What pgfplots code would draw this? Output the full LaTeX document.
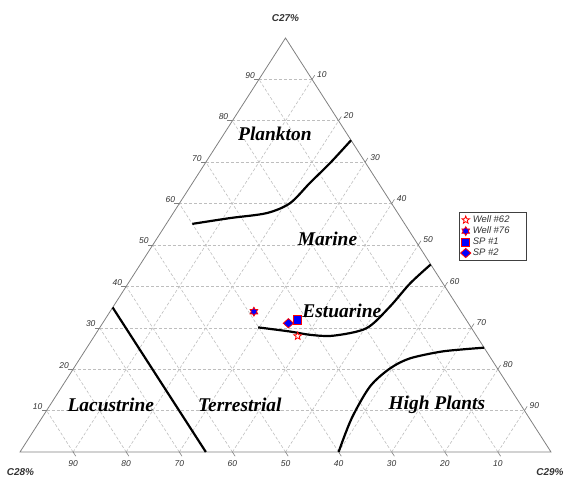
\documentclass[border=0pt]{standalone}
\usepackage{pgfplots}
\pgfplotsset{compat=1.18}
\usepackage{pgfplotstable}
\usepackage{fontspec}
\setmainfont{Liberation Serif}
\newfontfamily\arial{Liberation Sans}

% ternary data: C27 (top), C28 (left), C29 (right), in %
\pgfplotstableread{
C27 C28 C29
55.1 40.0 4.9
56.5 32.2 11.3
57.7 24.7 17.6
60.1 19.1 20.8
65.0 12.9 22.1
69.8 6.7 23.5
75.3 0.0 24.7
}\plankton
\pgfplotstableread{
C27 C28 C29
30.1 40.1 29.8
29.1 34.6 36.3
28.3 31.2 40.5
28.1 26.9 45.0
29.9 19.8 50.3
35.1 12.8 52.1
40.7 6.2 53.1
45.3 0.0 54.7
}\estuarine
\pgfplotstableread{
C27 C28 C29
0.0 40.0 60.0
8.1 33.5 58.4
15.8 26.2 58.0
20.2 20.2 59.6
22.6 15.3 62.1
24.2 8.8 67.0
24.8 4.1 71.1
25.2 0.0 74.8
}\highplants
\pgfplotstableread{
C27 C28 C29
34.9 65.1 0.0
0.0 65.0 35.0
}\lacustrine
\pgfplotstableread{
C27 C28 C29
28.0 33.7 38.3
}\wellA
\pgfplotstableread{
C27 C28 C29
33.9 39.0 27.1
}\wellB
\pgfplotstableread{
C27 C28 C29
31.9 31.8 36.3
}\spA
\pgfplotstableread{
C27 C28 C29
31.1 33.9 35.0
}\spB

\pgfdeclareplotmark{starfive}{%
  \pgfpathmoveto{\pgfpointpolar{90}{\pgfplotmarksize}}%
  \pgfpathlineto{\pgfpointpolar{126}{0.42\pgfplotmarksize}}%
  \pgfpathlineto{\pgfpointpolar{162}{\pgfplotmarksize}}%
  \pgfpathlineto{\pgfpointpolar{198}{0.42\pgfplotmarksize}}%
  \pgfpathlineto{\pgfpointpolar{234}{\pgfplotmarksize}}%
  \pgfpathlineto{\pgfpointpolar{270}{0.42\pgfplotmarksize}}%
  \pgfpathlineto{\pgfpointpolar{306}{\pgfplotmarksize}}%
  \pgfpathlineto{\pgfpointpolar{342}{0.42\pgfplotmarksize}}%
  \pgfpathlineto{\pgfpointpolar{18}{\pgfplotmarksize}}%
  \pgfpathlineto{\pgfpointpolar{54}{0.42\pgfplotmarksize}}%
  \pgfpathclose
  \pgfusepathqfillstroke
}
\pgfdeclareplotmark{starsix}{%
  \pgfpathmoveto{\pgfpointpolar{90}{\pgfplotmarksize}}%
  \pgfpathlineto{\pgfpointpolar{120}{0.58\pgfplotmarksize}}%
  \pgfpathlineto{\pgfpointpolar{150}{\pgfplotmarksize}}%
  \pgfpathlineto{\pgfpointpolar{180}{0.58\pgfplotmarksize}}%
  \pgfpathlineto{\pgfpointpolar{210}{\pgfplotmarksize}}%
  \pgfpathlineto{\pgfpointpolar{240}{0.58\pgfplotmarksize}}%
  \pgfpathlineto{\pgfpointpolar{270}{\pgfplotmarksize}}%
  \pgfpathlineto{\pgfpointpolar{300}{0.58\pgfplotmarksize}}%
  \pgfpathlineto{\pgfpointpolar{330}{\pgfplotmarksize}}%
  \pgfpathlineto{\pgfpointpolar{0}{0.58\pgfplotmarksize}}%
  \pgfpathlineto{\pgfpointpolar{30}{\pgfplotmarksize}}%
  \pgfpathlineto{\pgfpointpolar{60}{0.58\pgfplotmarksize}}%
  \pgfpathclose
  \pgfusepathqfillstroke
}
\pgfdeclareplotmark{widediamond}{%
  \pgfpathmoveto{\pgfqpoint{0pt}{\pgfplotmarksize}}%
  \pgfpathlineto{\pgfqpoint{1.12\pgfplotmarksize}{0pt}}%
  \pgfpathlineto{\pgfqpoint{0pt}{-\pgfplotmarksize}}%
  \pgfpathlineto{\pgfqpoint{-1.12\pgfplotmarksize}{0pt}}%
  \pgfpathclose
  \pgfusepathqfillstroke
}

\definecolor{edgegray}{HTML}{808080}
\definecolor{gridgray}{HTML}{BEBEBE}
\definecolor{txtgray}{HTML}{333333}

\begin{document}
\begin{tikzpicture}
\useasboundingbox (-20bp,-27bp) rectangle (544bp,452bp);
\begin{axis}[
  at={(0,0)}, anchor=south west,
  scale only axis, width=531bp, height=414bp,
  xmin=0, xmax=100, ymin=0, ymax=100,
  hide axis, clip=false,
  table/x expr={\thisrow{C29}+0.5*\thisrow{C27}},
  table/y expr={\thisrow{C27}},
  legend style={at={(axis cs:82.7,58.0)}, anchor=north west,
    font=\arial\itshape\fontsize{9.5}{10}\selectfont, text=txtgray,
    draw=black!75, line width=0.9pt, inner xsep=1pt, inner ysep=1.5pt,
    row sep=-1.2pt, cells={anchor=west}},
  legend cell align=left,
]
% grid
\pgfplotsinvokeforeach{10,20,30,40,50,60,70,80,90}{
  \draw[gridgray, dash pattern=on 3pt off 2pt, line width=0.6pt]
    (axis cs:{#1/2},#1) -- (axis cs:{100-#1/2},#1);
  \draw[gridgray, dash pattern=on 3pt off 2pt, line width=0.6pt]
    (axis cs:{100-#1},0) -- (axis cs:{(100-#1)/2},{100-#1});
  \draw[gridgray, dash pattern=on 3pt off 2pt, line width=0.6pt]
    (axis cs:#1,0) -- (axis cs:{(100+#1)/2},{100-#1});
  % ticks
  \draw[edgegray, line width=0.6pt] (axis cs:{#1/2},#1) -- ++(-5bp,0bp);
  \draw[edgegray, line width=0.6pt] (axis cs:{(100+#1)/2},{100-#1}) -- ++(2.7bp,4.2bp);
  \draw[edgegray, line width=0.6pt] (axis cs:{100-#1},0) -- ++(2.7bp,-4.2bp);
  % tick labels
  \node[anchor=east, inner sep=0pt, text=txtgray, font=\arial\itshape\fontsize{8.5}{9}\selectfont,
        xshift=-4bp, yshift=4bp] at (axis cs:{#1/2},#1) {#1};
  \node[anchor=west, inner sep=0pt, text=txtgray, font=\arial\itshape\fontsize{8.5}{9}\selectfont,
        xshift=5bp, yshift=5bp] at (axis cs:{(100+#1)/2},{100-#1}) {#1};
  \node[anchor=center, inner sep=0pt, text=txtgray, font=\arial\itshape\fontsize{8.5}{9}\selectfont,
        yshift=-12bp] at (axis cs:{100-#1},0) {#1};
}
% triangle edges
\draw[edgegray, line width=0.8pt] (axis cs:0,0) -- (axis cs:100,0) -- (axis cs:50,100) -- cycle;
% vertex labels
\node[font=\arial\bfseries\itshape\fontsize{10}{12}\selectfont, text=txtgray, yshift=20bp] at (axis cs:50,100) {C27\%};
\node[font=\arial\bfseries\itshape\fontsize{10}{12}\selectfont, text=txtgray, xshift=0.5bp, yshift=-20bp] at (axis cs:0,0) {C28\%};
\node[font=\arial\bfseries\itshape\fontsize{10}{12}\selectfont, text=txtgray, xshift=-1bp, yshift=-20bp] at (axis cs:100,0) {C29\%};

% boundary lines
\addplot[black, line width=2.2pt, smooth, tension=0.5, forget plot] table {\plankton};
\addplot[black, line width=2.2pt, smooth, tension=0.5, forget plot] table {\estuarine};
\addplot[black, line width=2.2pt, smooth, tension=0.5, forget plot] table {\highplants};
\addplot[black, line width=2.2pt, forget plot] table {\lacustrine};

% region labels
\begin{scope}[every node/.style={font=\bfseries\itshape\fontsize{19.5}{20}\selectfont, inner sep=0pt}]
\node at (axis cs:48.0,76.8) {Plankton};
\node at (axis cs:57.9,51.6) {Marine};
\node at (axis cs:60.6,34.2) {Estuarine};
\node at (axis cs:17.1,11.4) {Lacustrine};
\node at (axis cs:41.4,11.4) {Terrestrial};
\node at (axis cs:78.5,11.4) {High Plants};
\end{scope}

% samples
\addplot[only marks, mark=starfive, mark size=4bp, draw=red, fill=white, line width=0.8pt] table {\wellA};
\addlegendentry{Well \#62\hspace*{14bp}}
\addplot[only marks, mark=starsix, mark size=4.4bp, draw=red, fill=blue, line width=0.8pt] table {\wellB};
\addlegendentry{Well \#76}
\addplot[only marks, mark=square*, mark size=4.1bp, draw=red, fill=blue, line width=0.8pt] table {\spA};
\addlegendentry{SP \#1}
\addplot[only marks, mark=widediamond, mark size=4.6bp, draw=red, fill=blue, line width=0.8pt] table {\spB};
\addlegendentry{SP \#2}
\end{axis}
\end{tikzpicture}
\end{document}
